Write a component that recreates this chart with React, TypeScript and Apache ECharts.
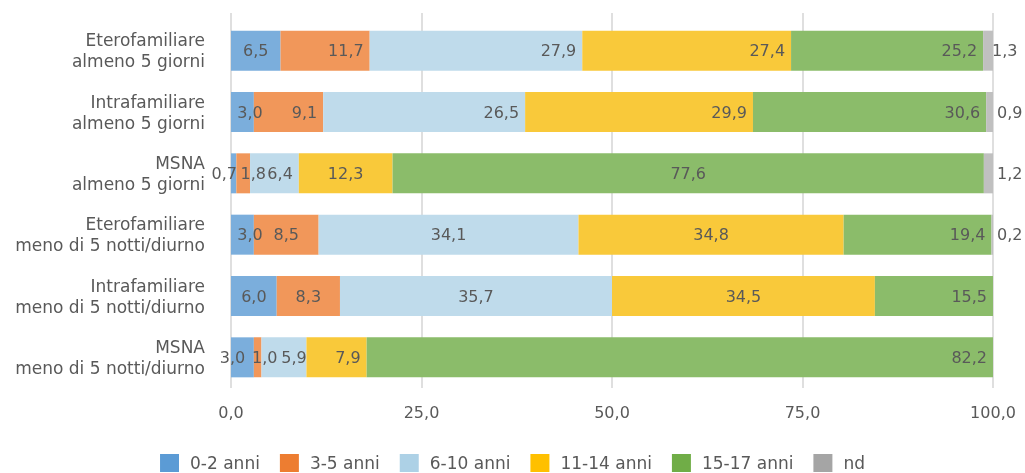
import React, { useEffect, useRef } from "react";
import * as echarts from "echarts";

const categories = [
  "Eterofamiliare\nalmeno 5 giorni",
  "Intrafamiliare\nalmeno 5 giorni",
  "MSNA\nalmeno 5 giorni",
  "Eterofamiliare\nmeno di 5 notti/diurno",
  "Intrafamiliare\nmeno di 5 notti/diurno",
  "MSNA\nmeno di 5 notti/diurno",
];

const seriesNames = ["0-2 anni", "3-5 anni", "6-10 anni", "11-14 anni", "15-17 anni", "nd"];

const age0_2 = [6.5, 3.0, 0.7, 3.0, 6.0, 3.0];
const age3_5 = [11.7, 9.1, 1.8, 8.5, 8.3, 1.0];
const age6_10 = [27.9, 26.5, 6.4, 34.1, 35.7, 5.9];
const age11_14 = [27.4, 29.9, 12.3, 34.8, 34.5, 7.9];
const age15_17 = [25.2, 30.6, 77.6, 19.4, 15.5, 82.2];
const nd = [1.3, 0.9, 1.2, 0.2, 0, 0];

const xTicks = [0, 25, 50, 75, 100];

// styling
const barColors = ["#7BAEDC", "#F1975A", "#BFDBEB", "#F9C93A", "#8BBC6A", "#C0C0C0"];
const legendColors = ["#5B9BD5", "#ED7D31", "#ADD1E6", "#FFC000", "#70AD47", "#A5A5A5"];
// label placement per row (top->bottom), per series
const labelLayout: (string | number)[][] = [
  ["c", "r", "r", "r", "r", "o0"],
  [7.5, "r", "r", "r", "r", "o"],
  [-9.5, 10, "r", "c", "c", "o"],
  [7.5, "c", "c", "c", "r", "o"],
  ["c", "c", "c", "c", "r", "-"],
  [-10, 7, 10, "r", "r", "-"],
];

const FONT = "DejaVu Sans";
const TXT = "#595959";

const fmt = (v: number) => v.toFixed(1).replace(".", ",");

export default function App() {
  const ref = useRef<HTMLDivElement>(null);
  useEffect(() => {
    if (!ref.current) return;
    const chart = echarts.init(ref.current, undefined, { renderer: "svg" });
    const all = [age0_2, age3_5, age6_10, age11_14, age15_17, nd];
    const series = all.map((vals, si) => ({
      name: seriesNames[si],
      type: "bar",
      stack: "total",
      xAxisIndex: 0,
      yAxisIndex: 0,
      barWidth: 40,
      itemStyle: { color: barColors[si] },
      data: vals.map((v, ri) => {
        const lay = labelLayout[ri][si];
        let label: any = {
          show: true,
          color: TXT,
          fontFamily: FONT,
          fontSize: 16,
          textBorderWidth: 0,
          formatter: (p: any) => fmt(p.value),
        };
        if (lay === "c") label.position = "inside";
        else if (lay === "r") {
          label.position = "insideRight";
          label.distance = 6;
        } else if (lay === "o") {
          label.position = "right";
          label.distance = 4;
        } else if (lay === "o0") {
          label.position = "right";
          label.distance = -1;
        } else if (lay === "-") label.show = false;
        else {
          label.position = "inside";
          label.offset = [lay as number, 0];
        }
        return { value: v, label };
      }),
    }));

    chart.setOption({
      animation: false,
      textStyle: { fontFamily: FONT },
      grid: [
        { left: 231, right: 32, top: 20, bottom: 85 },
        { left: 231, right: 32, top: 13, bottom: 85 },
      ],
      legend: {
        top: 449,
        left: "center",
        icon: "rect",
        itemWidth: 19,
        itemHeight: 18,
        itemGap: 20,
        textStyle: { color: TXT, fontFamily: FONT, fontSize: 17, padding: [0, 0, 0, 6] },
        data: seriesNames.map((n, i) => ({ name: n, itemStyle: { color: legendColors[i] } })),
      },
      xAxis: [
        {
          type: "value",
          gridIndex: 0,
          min: xTicks[0],
          max: xTicks[xTicks.length - 1],
          interval: 25,
          axisLine: { show: false },
          axisTick: { show: false },
          splitLine: { show: false },
          axisLabel: {
            color: TXT,
            fontFamily: FONT,
            fontSize: 16,
            margin: 16,
            formatter: (v: number) => fmt(v),
          },
        },
        {
          type: "value",
          gridIndex: 1,
          min: xTicks[0],
          max: xTicks[xTicks.length - 1],
          interval: 25,
          axisLine: { show: false },
          axisTick: { show: false },
          axisLabel: { show: false },
          splitLine: { show: true, lineStyle: { color: "#D4D4D4", width: 1.5 } },
        },
      ],
      yAxis: [
        {
          type: "category",
          gridIndex: 0,
          inverse: true,
          data: categories,
          axisLine: { show: false },
          axisTick: { show: false },
          axisLabel: {
            color: TXT,
            fontFamily: FONT,
            fontSize: 17,
            lineHeight: 21,
            margin: 26,
            align: "right",
          },
        },
        {
          type: "category",
          gridIndex: 1,
          data: categories,
          show: false,
        },
      ],
      series,
    });
    return () => chart.dispose();
  }, []);
  return (
    <div
      ref={ref}
      style={{ position: "fixed", left: 0, top: 0, width: 1025, height: 473 }}
    />
  );
}
